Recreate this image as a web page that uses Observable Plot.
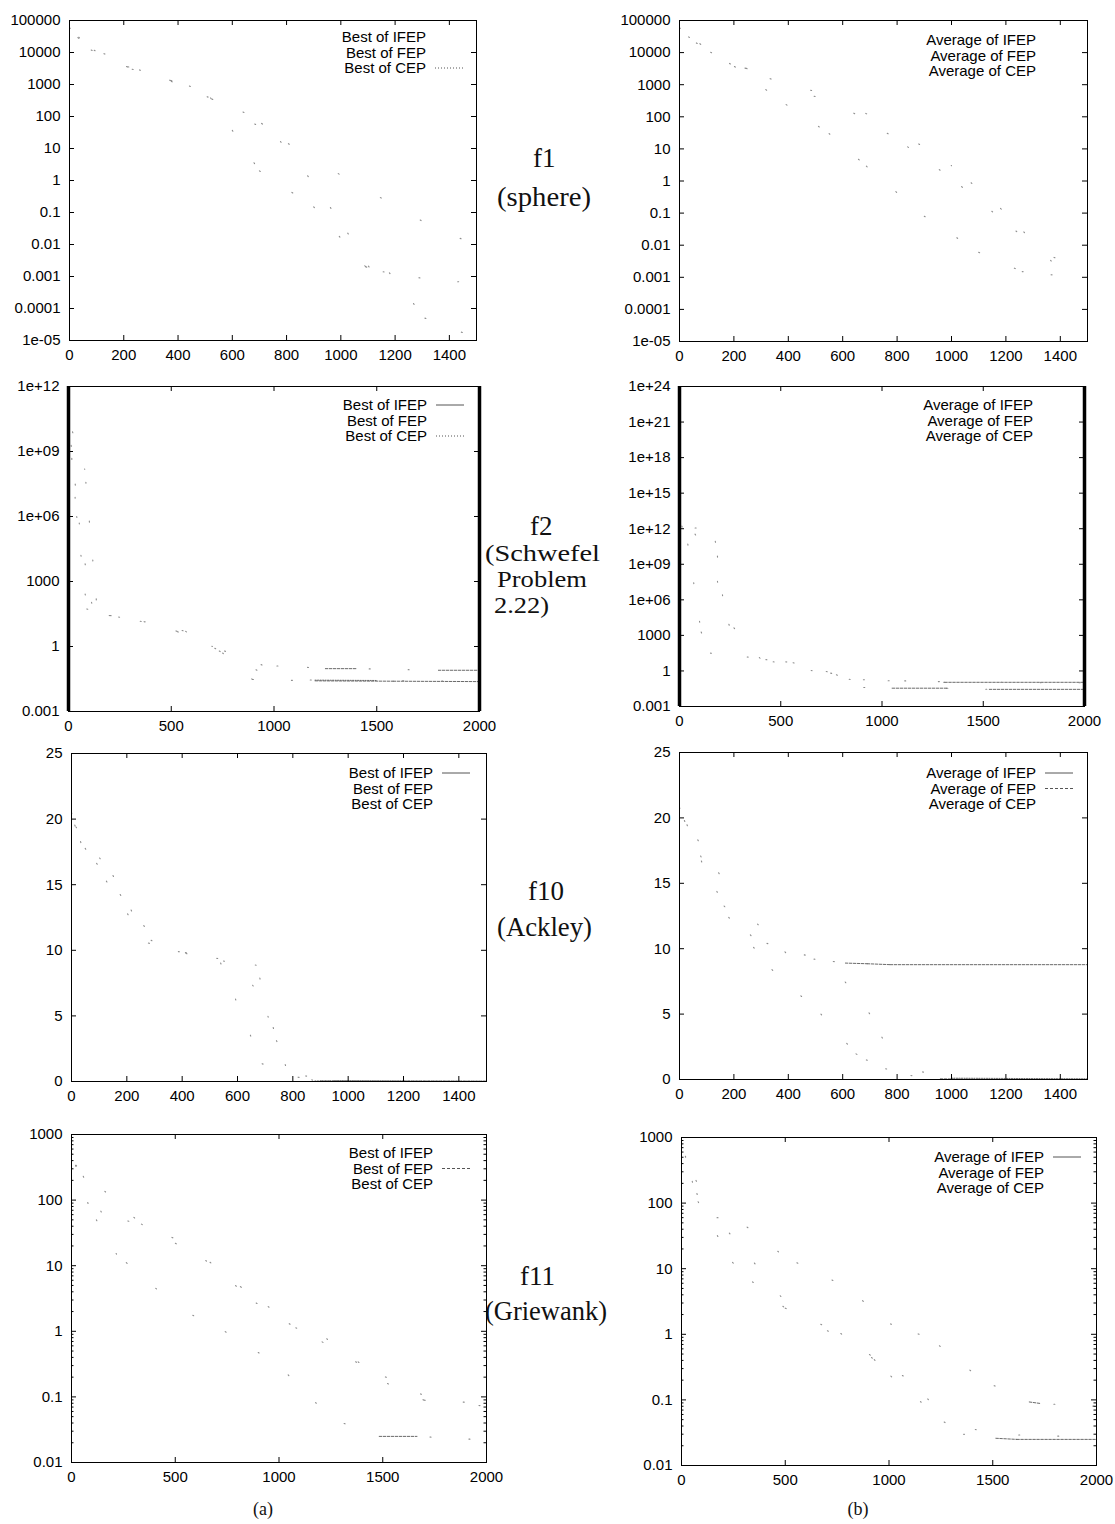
<!DOCTYPE html>
<html><head><meta charset="utf-8">
<script src="https://cdn.jsdelivr.net/npm/d3@7"></script>
<script src="https://cdn.jsdelivr.net/npm/@observablehq/plot@0.6"></script>
<style>
body{margin:0;background:#fff;}
#wrap{position:relative;width:1115px;height:1524px;overflow:hidden;background:#fff;}
</style></head><body><div id="wrap"></div>
<script>
// ---------- series names ----------
const seriesNames = ["IFEP", "FEP", "CEP"];

// ---------- tick values and labels ----------
const xTicks1500 = [0, 200, 400, 600, 800, 1000, 1200, 1400];
const xTicks2000 = [0, 500, 1000, 1500, 2000];
const yTicksF1 = [1e5, 1e4, 1e3, 1e2, 10, 1, 0.1, 0.01, 1e-3, 1e-4, 1e-5];
const yLabelsF1 = ["100000", "10000", "1000", "100", "10", "1", "0.1", "0.01", "0.001", "0.0001", "1e-05"];
const yTicksF2Best = [1e-3, 1, 1e3, 1e6, 1e9, 1e12];
const yLabelsF2Best = ["0.001", "1", "1000", "1e+06", "1e+09", "1e+12"];
const yTicksF2Avg = [1e-3, 1, 1e3, 1e6, 1e9, 1e12, 1e15, 1e18, 1e21, 1e24];
const yLabelsF2Avg = ["0.001", "1", "1000", "1e+06", "1e+09", "1e+12", "1e+15", "1e+18", "1e+21", "1e+24"];
const yTicksF10 = [0, 5, 10, 15, 20, 25];
const yLabelsF10 = ["0", "5", "10", "15", "20", "25"];
const yTicksF11 = [0.01, 0.1, 1, 10, 100, 1000];
const yLabelsF11 = ["0.01", "0.1", "1", "10", "100", "1000"];

// ---------- data: [generation, value] ----------
const f1BestIFEP = [[0,6e4],[34,3e4],[80,1.2e4],[231,3e3],[442,900],[520,380],[700,2],[900,0.15],[1092,2e-3],[1179,1.3e-3],[1310,5e-5],[1500,1.2e-5]];
const f1BestFEP  = [[0,6e4],[50,1.9e4],[169,4.7e3],[331,1.8e3],[670,107],[747,34],[850,3],[1000,0.05],[1109,1.7e-3],[1240,1e-3],[1500,6e-4]];
const f1BestCEP  = [[0,6e4],[40,2e4],[282,2.3e3],[442,900],[600,150],[909,4.4],[1061,0.7],[1210,0.15],[1350,0.03],[1500,0.01]];

const f1AvgIFEP = [[0,6e4],[62,2e4],[202,3.7e3],[392,240],[550,30],[687,2.9],[900,0.08],[1100,6e-3],[1260,1.5e-3],[1366,1.2e-3],[1500,1e-3]];
const f1AvgFEP  = [[0,6e4],[71,1.5e4],[289,2.2e3],[450,600],[600,210],[800,20],[1000,1.2],[1200,0.05],[1333,6e-3],[1500,1.5e-3]];
const f1AvgCEP  = [[0,6e4],[150,6e3],[341,1.7e3],[392,1.25e3],[600,300],[800,40],[1000,3],[1200,0.1],[1419,1.1e-3],[1500,9.5e-4]];

const f2BestIFEP = [[0,3e10],[40,1e6],[89,54],[198,27],[368,14],[570,5],[750,0.5],[895,0.03],[1200,0.026],[1580,0.025],[2000,0.024]];
const f2BestFEP  = [[0,3e10],[79,1.5e8],[141,35],[287,19],[465,9],[700,1],[951,0.13],[1100,0.12],[1250,0.095],[1400,0.095],[1800,0.08],[2000,0.08]];
const f2BestCEP  = [[0,3e10],[60,1e5],[120,40],[311,17],[409,11],[600,3],[800,0.3],[951,0.055],[1050,0.03],[1200,0.028],[1500,0.027],[2000,0.025]];

const f2AvgIFEP = [[0,2e13],[41,5e10],[107,1.9e3],[153,32],[334,15],[561,4.9],[775,0.48],[910,0.04],[1050,0.035],[1320,0.035],[1530,0.028],[2000,0.028]];
const f2AvgFEP  = [[0,2e13],[13,1.3e12],[161,1e12],[179,6e10],[227,2.9e4],[400,10.5],[844,0.19],[1048,0.16],[1310,0.11],[2000,0.11]];
const f2AvgCEP  = [[0,2e13],[100,1e11],[170,5.5e9],[200,1e6],[300,20],[600,3],[902,0.16],[1150,0.14],[1460,0.11],[2000,0.1]];

const f10BestIFEP = [[0,20.5],[16,19.4],[150,15.7],[278,10.55],[539,9.03],[689,1.35],[819,0.33],[900,0.04],[1200,0.02],[1500,0.01]];
const f10BestFEP  = [[0,20.5],[24,18.6],[248,11.3],[340,10.07],[671,8.85],[720,4],[800,0.6],[950,0.03],[1200,0.02],[1500,0.01]];
const f10BestCEP  = [[0,20.5],[4,20.17],[34,18.2],[320,10.25],[600,8.95],[700,6],[780,0.8],[880,0.04],[1200,0.03],[1500,0.02]];

const f10AvgIFEP = [[0,20.8],[18,19.8],[181,12.4],[340,8.4],[520,5],[649,1.96],[687,1.5],[758,0.82],[851,0.3],[959,0.05],[1100,0.02],[1500,0.01]];
const f10AvgFEP  = [[0,20.8],[10,20.4],[132,14.0],[276,10.7],[518,9.15],[610,8.9],[690,8.85],[775,8.78],[1500,8.78]];
const f10AvgCEP  = [[0,20.8],[16,20.0],[220,13.3],[400,9.5],[551,9.03],[700,5],[800,1],[1000,0.1],[1500,0.05]];

const f11BestIFEP = [[0,520],[21,340],[337,43],[647,12],[890,2.7],[1081,1.13],[1230,0.77],[1523,0.16],[1700,0.089],[2000,0.08]];
const f11BestFEP  = [[0,520],[88,74],[217,15],[527,2.1],[688,1.26],[1000,0.3],[1255,0.046],[1483,0.025],[1665,0.025],[2000,0.022]];
const f11BestCEP  = [[0,520],[150,60],[371,40],[570,20],[845,4],[1100,1.1],[1400,0.3],[1751,0.087],[1839,0.081],[2000,0.072]];

const f11AvgIFEP = [[0,800],[80,105],[246,12.5],[342,6.3],[500,2.5],[768,1.03],[929,0.41],[1009,0.23],[1266,0.046],[1359,0.03],[1515,0.026],[1616,0.025],[2000,0.025]];
const f11AvgFEP  = [[0,800],[109,62],[267,57],[500,15],[832,4.6],[949,1.7],[1081,1.17],[1194,0.89],[1450,0.2],[1676,0.093],[1732,0.088],[2000,0.08]];
const f11AvgCEP  = [[0,800],[13,500],[150,70],[400,8],[535,2.2],[591,1.7],[800,0.8],[1100,0.2],[1295,0.045],[1500,0.03],[2000,0.027]];

// ---------- middle labels: text, x, baseline, size, stretched width ----------
const sideLabels = [
  ["f1", 533, 167, 27, 0], ["(sphere)", 497, 206, 27, 94],
  ["f2", 530, 535, 27, 0], ["(Schwefel", 485, 561, 23, 115], ["Problem", 497, 587, 23, 90], ["2.22)", 494, 613, 23, 55],
  ["f10", 528, 900, 27, 0], ["(Ackley)", 497, 936, 27, 95],
  ["f11", 520, 1285, 27, 0], ["(Griewank)", 485, 1320, 27, 122]
];
const captions = [["(a)", 263, 1515], ["(b)", 858, 1515]];

// ---------- styles ----------
const DOT = "#8c8c8c";
const FLAT = "#5a5a5a";
const dashes = ["none", "3,2", "1,2"];
const SANS = "'Liberation Sans', Arial, Helvetica, sans-serif";
const SERIF = "'Liberation Serif', 'Times New Roman', serif";

const minorF11 = [];
for (let k = -2; k <= 2; k++) for (let m = 2; m <= 9; m++) minorF11.push(m * Math.pow(10, k));

const panels = [
  {L:69, T:20, R:476, B:340, xDomain:[0,1500], xTicks:xTicks1500, yType:"log", yDomain:[1e-5,1e5], yTicks:yTicksF1, yLabels:yLabelsF1, minor:null, kind:"Best", data:[f1BestIFEP,f1BestFEP,f1BestCEP], legTop:22, legRight:50, samples:[0,0,1]},
  {L:679, T:20, R:1087, B:341, xDomain:[0,1500], xTicks:xTicks1500, yType:"log", yDomain:[1e-5,1e5], yTicks:yTicksF1, yLabels:yLabelsF1, minor:null, kind:"Average", data:[f1AvgIFEP,f1AvgFEP,f1AvgCEP], legTop:25, legRight:51, samples:[0,0,0]},
  {L:68, T:386, R:479, B:711, xDomain:[0,2000], xTicks:xTicks2000, yType:"log", yDomain:[1e-3,1e12], yTicks:yTicksF2Best, yLabels:yLabelsF2Best, minor:"bar", kind:"Best", data:[f2BestIFEP,f2BestFEP,f2BestCEP], legTop:24, legRight:52, samples:[1,0,1]},
  {L:679, T:386, R:1084, B:706, xDomain:[0,2000], xTicks:xTicks2000, yType:"log", yDomain:[1e-3,1e24], yTicks:yTicksF2Avg, yLabels:yLabelsF2Avg, minor:"bar", kind:"Average", data:[f2AvgIFEP,f2AvgFEP,f2AvgCEP], legTop:24, legRight:51, samples:[0,0,0]},
  {L:71, T:753, R:486, B:1081, xDomain:[0,1500], xTicks:xTicks1500, yType:"linear", yDomain:[0,25], yTicks:yTicksF10, yLabels:yLabelsF10, minor:null, kind:"Best", data:[f10BestIFEP,f10BestFEP,f10BestCEP], legTop:25, legRight:53, samples:[1,0,0]},
  {L:679, T:752, R:1087, B:1079, xDomain:[0,1500], xTicks:xTicks1500, yType:"linear", yDomain:[0,25], yTicks:yTicksF10, yLabels:yLabelsF10, minor:null, kind:"Average", data:[f10AvgIFEP,f10AvgFEP,f10AvgCEP], legTop:26, legRight:51, samples:[1,1,0]},
  {L:71, T:1134, R:486, B:1462, xDomain:[0,2000], xTicks:xTicks2000, yType:"log", yDomain:[0.01,1000], yTicks:yTicksF11, yLabels:yLabelsF11, minor:"sub", kind:"Best", data:[f11BestIFEP,f11BestFEP,f11BestCEP], legTop:24, legRight:53, samples:[0,1,0]},
  {L:681, T:1137, R:1096, B:1465, xDomain:[0,2000], xTicks:xTicks2000, yType:"log", yDomain:[0.01,1000], yTicks:yTicksF11, yLabels:yLabelsF11, minor:"sub", kind:"Average", data:[f11AvgIFEP,f11AvgFEP,f11AvgCEP], legTop:25, legRight:52, samples:[1,0,0]}
];

// split a series into segments; near-flat segments are drawn denser (as the scan shows them)
function segments(arr, isLog) {
  const slope = [], flat = [];
  for (let i = 0; i < arr.length - 1; i++) {
    const a = arr[i], b = arr[i + 1];
    const isFlat = isLog ? Math.abs(Math.log10(b[1] / a[1])) < 0.025 : Math.abs(b[1] - a[1]) < 0.1;
    const target = isFlat ? flat : slope;
    target.push({x: a[0], y: a[1], seg: i}, {x: b[0], y: b[1], seg: i});
  }
  return {slope, flat};
}

const wrap = document.getElementById("wrap");

function makePanel(p) {
  const mL = 70, mR = 18, mT = 12, mB = 34;
  const w = p.R - p.L, h = p.B - p.T;
  const lab = new Map(p.yTicks.map((t, i) => [t, p.yLabels[i]]));
  const isLog = p.yType === "log";
  const marks = [];
  p.data.forEach((arr, i) => {
    const {slope, flat} = segments(arr, isLog);
    marks.push(Plot.line(slope, {x: "x", y: "y", z: "seg", stroke: DOT, strokeWidth: 1.1,
      strokeDasharray: "1,38", strokeDashoffset: -i * 13, clip: true}));
    marks.push(Plot.line(flat, {x: "x", y: "y", z: "seg", stroke: FLAT, strokeWidth: 0.9,
      strokeDasharray: i === 2 ? "1,1.5" : "2.5,1.5", clip: true}));
  });
  if (p.minor === "bar") marks.push(Plot.ruleX(p.xDomain, {x: d => d, strokeWidth: 3.5, stroke: "#000"}));
  if (p.minor === "sub") {
    marks.push(Plot.tickY(minorF11, {y: d => d, insetRight: w - 2.5, stroke: "#000"}));
    marks.push(Plot.tickY(minorF11, {y: d => d, insetLeft: w - 2.5, stroke: "#000"}));
  }
  marks.push(
    Plot.tickX(p.xTicks, {x: d => d, insetTop: h - 5, stroke: "#000"}),
    Plot.tickX(p.xTicks, {x: d => d, insetBottom: h - 5, stroke: "#000"}),
    Plot.tickY(p.yTicks, {y: d => d, insetRight: w - 5, stroke: "#000"}),
    Plot.tickY(p.yTicks, {y: d => d, insetLeft: w - 5, stroke: "#000"}),
    Plot.frame({stroke: "#000"}),
    Plot.axisX({ticks: p.xTicks, tickSize: 0, tickPadding: 9, tickFormat: d => String(d), fontSize: 15, label: null}),
    Plot.axisY({ticks: p.yTicks, tickSize: 0, tickPadding: 9, tickFormat: d => lab.get(d), fontSize: 15, label: null})
  );
  // legend (decoration)
  marks.push(() => {
    const g = d3.create("svg:g").attr("font-family", SANS).attr("font-size", 15).attr("fill", "#000");
    const xr = mL + w - p.legRight;
    seriesNames.forEach((s, i) => {
      const y = mT + p.legTop + i * 15.5;
      g.append("text").attr("x", xr).attr("y", y).attr("text-anchor", "end").text(p.kind + " of " + s);
      if (p.samples[i]) {
        g.append("line").attr("x1", xr + 9).attr("x2", xr + 37).attr("y1", y - 5).attr("y2", y - 5)
          .attr("stroke", "#555").attr("stroke-width", 1).attr("stroke-dasharray", dashes[i]);
      }
    });
    return g.node();
  });
  const svg = Plot.plot({
    width: w + mL + mR, height: h + mT + mB,
    marginLeft: mL, marginRight: mR, marginTop: mT, marginBottom: mB,
    x: {domain: p.xDomain, label: null},
    y: {type: p.yType, domain: p.yDomain, label: null},
    style: {fontFamily: SANS, fontSize: "15px", color: "#000", background: "transparent", overflow: "visible"},
    marks
  });
  svg.style.position = "absolute";
  svg.style.left = (p.L - mL) + "px";
  svg.style.top = (p.T - mT) + "px";
  wrap.appendChild(svg);
}

panels.forEach(makePanel);

// overlay for function names and captions
const ov = d3.create("svg").attr("width", 1115).attr("height", 1524)
  .style("position", "absolute").style("left", "0px").style("top", "0px").style("pointer-events", "none");
ov.selectAll("text.side").data(sideLabels).join("text").attr("class", "side")
  .attr("x", d => d[1]).attr("y", d => d[2]).attr("font-family", SERIF).attr("font-size", d => d[3]).attr("fill", "#111")
  .attr("textLength", d => d[4] ? d[4] : null).attr("lengthAdjust", d => d[4] ? "spacingAndGlyphs" : null)
  .text(d => d[0]);
ov.selectAll("text.cap").data(captions).join("text").attr("class", "cap")
  .attr("x", d => d[1]).attr("y", d => d[2]).attr("text-anchor", "middle").attr("font-family", SERIF).attr("font-size", 18).attr("fill", "#111")
  .text(d => d[0]);
wrap.appendChild(ov.node());
</script></body></html>
